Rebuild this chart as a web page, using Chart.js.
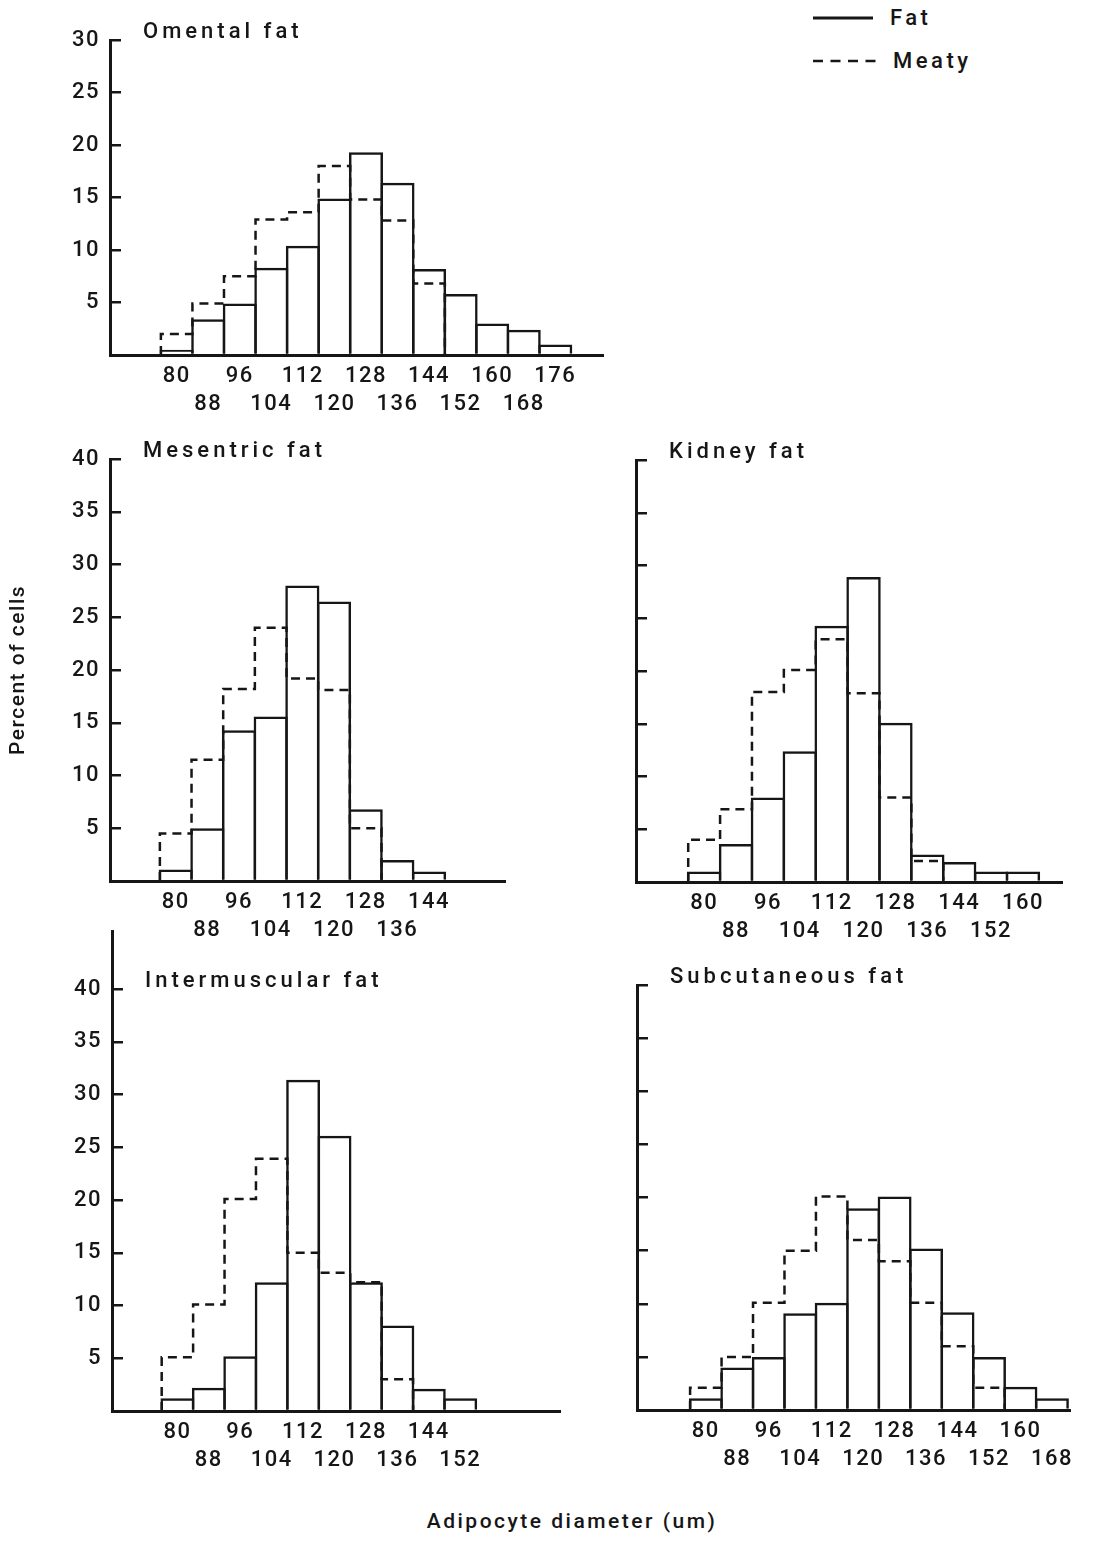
<!DOCTYPE html>
<html>
<head>
<meta charset="utf-8">
<title>Adipocyte diameter distribution</title>
<script src="https://cdn.jsdelivr.net/npm/chart.js@4.4.1/dist/chart.umd.min.js"></script>
<style>
  body { margin: 0; background: #fff; }
  #page { position: relative; width: 1093px; height: 1554px; overflow: hidden;
          font-family: Roboto, "Liberation Sans", Arial, sans-serif; font-weight: 500; color: #161616; }
  canvas { position: absolute; }
  .txt { position: absolute; font-size: 22px; letter-spacing: 3.5px; white-space: nowrap; line-height: 26px; }
</style>
</head>
<body>
<div id="page">
  <svg style="position:absolute;left:0;top:0" width="1093" height="90">
    <line x1="813" y1="18" x2="873" y2="18" stroke="#161616" stroke-width="3"/>
    <line x1="813" y1="61" x2="877" y2="61" stroke="#161616" stroke-width="2.5" stroke-dasharray="10 7.5"/>
  </svg>
  <div class="txt" style="left:890px;top:5px">Fat</div>
  <div class="txt" style="left:893px;top:48px">Meaty</div>
  <div class="txt" style="left:372px;width:400px;text-align:center;top:1508px;font-size:21px;letter-spacing:2.5px">Adipocyte diameter (um)</div>
</div>
<script>
// bin labels (um) and percent of cells
const omentalBins = [80, 88, 96, 104, 112, 120, 128, 136, 144, 152, 160, 168, 176];
const omentalFat = [0.5, 3.4, 4.9, 8.3, 10.4, 14.9, 19.3, 16.4, 8.2, 5.8, 3.0, 2.4, 1.0];
const omentalMeaty = [2.0, 4.9, 7.5, 12.9, 13.6, 18.0, 14.8, 12.8, 6.8];

const mesentricBins = [80, 88, 96, 104, 112, 120, 128, 136, 144];
const mesentricFat = [1.1, 5.0, 14.3, 15.6, 28.0, 26.5, 6.8, 2.0, 0.9];
const mesentricMeaty = [4.5, 11.5, 18.2, 24.0, 19.2, 18.1, 5.0];

const kidneyBins = [80, 88, 96, 104, 112, 120, 128, 136, 144, 152, 160];
const kidneyFat = [1.0, 3.6, 8.0, 12.4, 24.3, 28.9, 15.1, 2.6, 1.9, 1.0, 1.0];
const kidneyMeaty = [4.0, 6.9, 18.0, 20.1, 23.0, 17.9, 8.0, 2.0];

const intermuscularBins = [80, 88, 96, 104, 112, 120, 128, 136, 144, 152];
const intermuscularFat = [1.2, 2.2, 5.2, 12.2, 31.4, 26.1, 12.2, 8.1, 2.1, 1.2];
const intermuscularMeaty = [5.1, 10.1, 20.1, 23.9, 15.0, 13.1, 12.2, 3.0];

const subcutaneousBins = [80, 88, 96, 104, 112, 120, 128, 136, 144, 152, 160, 168];
const subcutaneousFat = [1.1, 4.0, 5.0, 9.1, 10.1, 19.0, 20.1, 15.2, 9.2, 5.0, 2.2, 1.1];
const subcutaneousMeaty = [2.1, 5.0, 10.1, 15.0, 20.1, 16.0, 14.0, 10.1, 6.0, 2.1];

const ink = '#161616';
const FONT = 'Roboto, "Liberation Sans", Arial, sans-serif';
const page = document.getElementById('page');

// typewriter-like spacing for the canvas text
Chart.register({
  id: 'typeSpacing',
  beforeDraw(chart) { chart.ctx.letterSpacing = '1.5px'; }
});

const panelTitle = {
  id: 'panelTitle',
  afterDraw(chart, args, opts) {
    const ctx = chart.ctx;
    ctx.save();
    ctx.font = '500 22px ' + FONT;
    ctx.letterSpacing = '4px';
    ctx.fillStyle = ink;
    ctx.textBaseline = 'middle';
    ctx.fillText(opts.text, chart.chartArea.left + 33, chart.scales.y.getPixelForValue(opts.tickTop) - 8);
    ctx.restore();
  }
};

function histogram(p) {
  const W = p.axisTitle ? 110 : 100;
  const padTop = 40, padRight = 30, xAxisH = 72;
  const canvas = document.createElement('canvas');
  canvas.width = W + (p.right - p.left) + padRight;
  canvas.height = padTop + (p.bottom - p.top) + xAxisH;
  canvas.style.left = (p.left - W) + 'px';
  canvas.style.top = (p.top - padTop) + 'px';
  page.appendChild(canvas);

  const half = (p.bins[1] - p.bins[0]) / 2;
  const step = [{x: p.bins[0] - half, y: 0}]
    .concat(p.meaty.map((v, i) => ({x: p.bins[i] + half, y: v})));
  step.push({x: p.bins[p.meaty.length - 1] + half, y: 0});
  const tickTop = p.tickTop || p.yMax;
  const font = { family: FONT, size: 22, weight: 500 };

  new Chart(canvas, {
    type: 'bar',
    data: {
      datasets: [{
        label: 'Fat',
        data: p.bins.map((b, i) => ({x: b, y: p.fat[i]})),
        backgroundColor: 'rgba(0,0,0,0)',
        borderColor: ink,
        borderWidth: 2.5,
        barPercentage: 1.079,
        categoryPercentage: 1
      }, {
        type: 'line',
        label: 'Meaty',
        data: step,
        stepped: 'after',
        borderColor: ink,
        borderWidth: 2.5,
        borderDash: [9, 6],
        pointRadius: 0,
        fill: false,
        tension: 0
      }]
    },
    options: {
      responsive: false,
      animation: false,
      events: [],
      layout: { padding: { top: padTop, right: padRight, left: 0, bottom: 0 } },
      plugins: {
        legend: { display: false },
        tooltip: { enabled: false },
        panelTitle: { text: p.title, tickTop: tickTop }
      },
      scales: {
        x: {
          type: 'linear', min: p.xMin, max: p.xMax, offset: false,
          grid: { display: false, drawTicks: false, offset: false },
          border: { display: true, color: ink, width: 3 },
          afterBuildTicks: axis => { axis.ticks = p.bins.map(v => ({value: v})); },
          afterFit: axis => { axis.height = xAxisH; },
          ticks: {
            autoSkip: false, maxRotation: 0, minRotation: 0, padding: 7, color: ink,
            font: Object.assign({ lineHeight: 28 / 22 }, font),
            callback: (v, i) => i % 2 === 0 ? String(v) : ['', String(v)]
          }
        },
        y: {
          min: 0, max: p.yMax,
          grid: { display: true, drawOnChartArea: false, drawTicks: true, tickLength: -11, color: ink, lineWidth: 2.5 },
          border: { display: true, color: ink, width: 3 },
          afterBuildTicks: axis => { axis.ticks = axis.ticks.filter(t => t.value <= tickTop); },
          afterFit: axis => { axis.width = W; },
          ticks: {
            stepSize: 5, padding: 21, color: ink, font: font,
            callback: v => (p.showValues && v > 0) ? String(v) : ''
          },
          title: {
            display: !!p.axisTitle, text: p.axisTitle || '', color: ink,
            font: { family: FONT, size: 21, weight: 500 }, padding: { top: 6, bottom: 0 }
          }
        }
      }
    },
    plugins: [panelTitle]
  });
}

histogram({ title: 'Omental fat', bins: omentalBins, fat: omentalFat, meaty: omentalMeaty,
  left: 110, top: 40, right: 603, bottom: 355, xMin: 63.1, xMax: 188.1, yMax: 30, showValues: true });
histogram({ title: 'Mesentric fat', bins: mesentricBins, fat: mesentricFat, meaty: mesentricMeaty,
  left: 110, top: 459, right: 505, bottom: 881, xMin: 63.4, xMax: 163.2, yMax: 40, showValues: true,
  axisTitle: 'Percent of cells' });
histogram({ title: 'Kidney fat', bins: kidneyBins, fat: kidneyFat, meaty: kidneyMeaty,
  left: 636, top: 460, right: 1062, bottom: 882, xMin: 62.9, xMax: 169.8, yMax: 40, showValues: false });
histogram({ title: 'Intermuscular fat', bins: intermuscularBins, fat: intermuscularFat, meaty: intermuscularMeaty,
  left: 112, top: 931, right: 560, bottom: 1411, xMin: 63.35, xMax: 177.4, yMax: 45.5, tickTop: 40, showValues: true });
histogram({ title: 'Subcutaneous fat', bins: subcutaneousBins, fat: subcutaneousFat, meaty: subcutaneousMeaty,
  left: 637, top: 985, right: 1070, bottom: 1410, xMin: 62.5, xMax: 172.6, yMax: 40, showValues: false });
</script>
</body>
</html>
